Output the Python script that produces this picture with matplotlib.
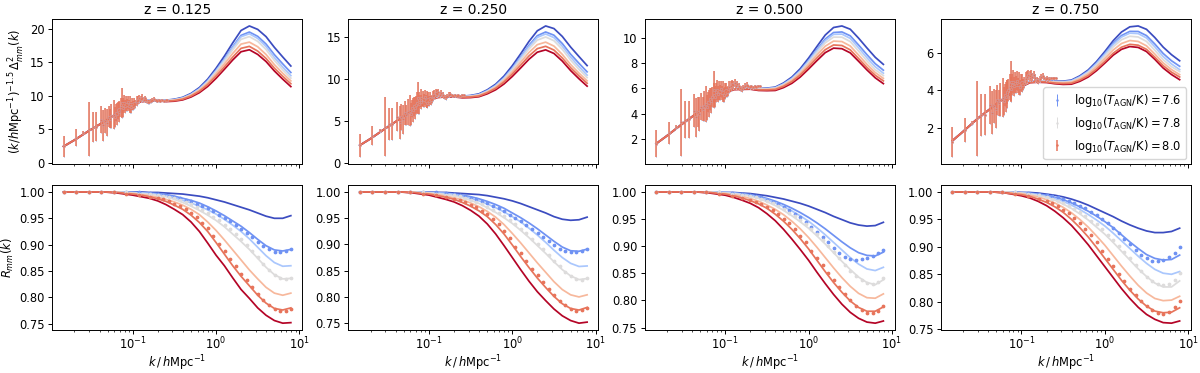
import numpy as np
import matplotlib.pyplot as plt

redshifts = [0.125, 0.250, 0.500, 0.750]
log_tagn = [7.5, 7.6, 7.7, 7.8, 7.9, 8.0, 8.1]
data_tagn = [7.6, 7.8, 8.0]

# k grid of the emulator curves
k_line = [0.0148, 0.02, 0.03, 0.045, 0.065, 0.1, 0.126, 0.158, 0.2, 0.251, 0.316, 0.398,
          0.501, 0.631, 0.794, 1.0, 1.259, 1.585, 1.995, 2.512, 3.162, 3.981, 5.012, 6.31, 7.9]

# k grid of the simulation ratios (bottom row)
k_data = [0.0148, 0.021, 0.0296, 0.042, 0.059, 0.084, 0.12, 0.16,
          0.2, 0.233, 0.272, 0.317, 0.37, 0.431, 0.503, 0.586, 0.684, 0.797, 0.93, 1.084,
          1.265, 1.475, 1.72, 2.006, 2.339, 2.728, 3.181, 3.71, 4.327, 5.046, 5.885, 6.863, 7.9]

k_lo = [0.0148, 0.0209, 0.0256, 0.0296, 0.0331, 0.0363, 0.0419, 0.0444, 0.0468, 0.0491,
        0.0513, 0.0534, 0.0554, 0.0592, 0.0610, 0.0628, 0.0645, 0.0662, 0.0678, 0.0694,
        0.0725, 0.0740, 0.0755, 0.0769, 0.0797, 0.0811, 0.0837, 0.0863, 0.0888, 0.0912,
        0.0936, 0.0959, 0.0982, 0.1004, 0.1025, 0.1047, 0.108, 0.112, 0.116, 0.120,
        0.125, 0.130, 0.135, 0.140, 0.146, 0.152, 0.158, 0.165, 0.172, 0.180,
        0.188, 0.196, 0.205, 0.215, 0.225, 0.236, 0.248, 0.260]
lo_y = [2.45, 3.75, 4.5, 5.0, 5.35, 5.4, 6.4, 5.6, 6.3, 6.0,
        6.9, 6.6, 7.0, 7.2, 6.8, 7.5, 7.3, 7.8, 7.6, 8.0,
        8.3, 8.9, 8.1, 8.6, 8.9, 8.4, 8.8, 8.6, 9.0, 8.5,
        8.7, 8.3, 8.8, 8.5, 8.9, 8.6, 8.8, 9.2, 9.4, 9.6,
        9.5, 9.7, 9.4, 9.6, 9.3, 9.1, 9.0, 9.2, 9.4, 9.5,
        9.3, 9.2, 9.3, 9.2, 9.3, 9.25, 9.3, 9.35]
lo_err = [1.6, 1.3, 0.25, 4.0, 2.2, 2.2, 2.0, 2.3, 1.8, 2.0,
          1.6, 1.4, 1.8, 2.1, 1.5, 1.2, 1.6, 1.3, 1.5, 1.2,
          1.4, 2.2, 1.3, 1.1, 1.2, 1.0, 1.1, 0.9, 1.0, 0.8,
          1.2, 0.8, 0.9, 0.7, 0.8, 0.6, 0.6, 0.7, 0.6, 0.5,
          0.5, 0.5, 0.4, 0.4, 0.4, 0.3, 0.3, 0.3, 0.3, 0.3,
          0.2, 0.2, 0.2, 0.2, 0.15, 0.15, 0.12, 0.1]
lo_scale = [1.0, 0.87, 0.66, 0.5]

# reference (no feedback) k^-1.5 Delta^2 per redshift
dmo_z0125 = [2.45, 3.4, 4.8, 6.1, 7.4, 8.6, 9.2, 9.3, 9.4, 9.35, 9.5, 9.8, 10.4, 11.3, 12.6,
             14.3, 16.2, 18.3, 20.3, 21.1, 20.7, 19.7, 18.1, 16.6, 15.1]
dmo_z0250 = [2.15, 2.95, 4.15, 5.3, 6.4, 7.45, 7.9, 8.0, 8.05, 8.0, 8.1, 8.3, 8.8, 9.5, 10.5,
             11.8, 13.3, 14.9, 16.3, 17.0, 16.8, 15.9, 14.6, 13.4, 12.2]
dmo_z0500 = [1.62, 2.25, 3.15, 4.0, 4.8, 5.6, 5.95, 6.0, 6.05, 6.0, 6.05, 6.15, 6.5, 7.0, 7.7,
             8.6, 9.6, 10.6, 11.3, 11.5, 11.3, 10.6, 9.8, 9.0, 8.35]
dmo_z0750 = [1.3, 1.8, 2.5, 3.1, 3.65, 4.2, 4.45, 4.5, 4.52, 4.5, 4.52, 4.6, 4.85, 5.2, 5.7,
             6.3, 6.95, 7.5, 7.85, 7.95, 7.8, 7.35, 6.8, 6.35, 5.96]

# emulator suppression R_mm(k), one row per log10(T_AGN/K)
ratio_z0125 = [
    [1, 1, 1, 1, 1, 1.0, 1.0, 0.999, 0.999, 0.998, 0.997, 0.996, 0.994, 0.992, 0.989, 0.985, 0.981, 0.976, 0.971, 0.966, 0.960, 0.954, 0.950, 0.950, 0.955],
    [1, 1, 1, 1, 1, 0.999, 0.999, 0.998, 0.997, 0.995, 0.992, 0.988, 0.984, 0.979, 0.972, 0.964, 0.955, 0.945, 0.935, 0.923, 0.910, 0.898, 0.890, 0.888, 0.891],
    [1, 1, 1, 1, 1, 0.999, 0.998, 0.997, 0.995, 0.992, 0.989, 0.984, 0.979, 0.973, 0.966, 0.958, 0.948, 0.937, 0.925, 0.911, 0.895, 0.879, 0.866, 0.859, 0.860],
    [1, 1, 1, 1, 1, 0.998, 0.997, 0.996, 0.994, 0.991, 0.986, 0.980, 0.973, 0.965, 0.956, 0.946, 0.934, 0.920, 0.906, 0.891, 0.874, 0.857, 0.843, 0.835, 0.836],
    [1, 1, 1, 1, 0.999, 0.997, 0.995, 0.993, 0.990, 0.986, 0.981, 0.975, 0.967, 0.957, 0.943, 0.927, 0.909, 0.890, 0.871, 0.852, 0.835, 0.819, 0.808, 0.804, 0.808],
    [1, 1, 1, 1, 0.999, 0.996, 0.994, 0.991, 0.987, 0.982, 0.975, 0.967, 0.956, 0.942, 0.925, 0.904, 0.882, 0.860, 0.840, 0.822, 0.804, 0.789, 0.779, 0.776, 0.780],
    [1, 1, 1, 1, 0.998, 0.994, 0.991, 0.988, 0.983, 0.976, 0.967, 0.957, 0.943, 0.925, 0.903, 0.880, 0.860, 0.837, 0.815, 0.798, 0.780, 0.766, 0.756, 0.751, 0.752],
]
ratio_z0250 = [
    [1, 1, 1, 1, 1, 1.0, 0.999, 0.999, 0.998, 0.997, 0.996, 0.995, 0.993, 0.990, 0.987, 0.983, 0.978, 0.972, 0.966, 0.960, 0.953, 0.948, 0.946, 0.947, 0.952],
    [1, 1, 1, 1, 1, 0.999, 0.999, 0.998, 0.996, 0.994, 0.991, 0.987, 0.982, 0.976, 0.969, 0.960, 0.951, 0.941, 0.930, 0.918, 0.906, 0.895, 0.888, 0.887, 0.891],
    [1, 1, 1, 1, 1, 0.999, 0.998, 0.997, 0.995, 0.992, 0.988, 0.983, 0.977, 0.970, 0.962, 0.953, 0.943, 0.931, 0.918, 0.904, 0.889, 0.875, 0.864, 0.858, 0.859],
    [1, 1, 1, 1, 1, 0.998, 0.997, 0.995, 0.993, 0.989, 0.984, 0.978, 0.970, 0.961, 0.951, 0.940, 0.927, 0.913, 0.898, 0.883, 0.867, 0.852, 0.840, 0.833, 0.835],
    [1, 1, 1, 1, 0.999, 0.997, 0.995, 0.992, 0.989, 0.985, 0.979, 0.972, 0.963, 0.952, 0.938, 0.921, 0.903, 0.884, 0.865, 0.847, 0.829, 0.814, 0.804, 0.800, 0.804],
    [1, 1, 1, 1, 0.999, 0.996, 0.993, 0.990, 0.986, 0.980, 0.973, 0.964, 0.953, 0.938, 0.920, 0.899, 0.877, 0.856, 0.836, 0.818, 0.801, 0.787, 0.778, 0.775, 0.780],
    [1, 1, 1, 1, 0.998, 0.994, 0.990, 0.986, 0.981, 0.974, 0.965, 0.954, 0.939, 0.920, 0.898, 0.875, 0.852, 0.830, 0.810, 0.793, 0.777, 0.764, 0.755, 0.750, 0.752],
]
ratio_z0500 = [
    [1, 1, 1, 1, 1, 0.999, 0.999, 0.998, 0.997, 0.995, 0.993, 0.990, 0.987, 0.983, 0.979, 0.974, 0.968, 0.962, 0.955, 0.949, 0.943, 0.939, 0.937, 0.938, 0.944],
    [1, 1, 1, 1, 1, 0.999, 0.998, 0.997, 0.995, 0.992, 0.988, 0.983, 0.977, 0.970, 0.962, 0.953, 0.943, 0.932, 0.920, 0.908, 0.897, 0.888, 0.883, 0.882, 0.889],
    [1, 1, 1, 1, 1, 0.999, 0.998, 0.996, 0.994, 0.990, 0.986, 0.980, 0.973, 0.965, 0.956, 0.946, 0.934, 0.921, 0.907, 0.893, 0.879, 0.867, 0.858, 0.855, 0.861],
    [1, 1, 1, 1, 1, 0.998, 0.997, 0.995, 0.992, 0.988, 0.982, 0.975, 0.966, 0.956, 0.945, 0.933, 0.919, 0.904, 0.888, 0.872, 0.857, 0.843, 0.833, 0.829, 0.838],
    [1, 1, 1, 1, 0.999, 0.997, 0.995, 0.992, 0.988, 0.983, 0.976, 0.968, 0.958, 0.946, 0.932, 0.916, 0.898, 0.879, 0.860, 0.842, 0.826, 0.813, 0.805, 0.804, 0.812],
    [1, 1, 1, 1, 0.999, 0.996, 0.993, 0.989, 0.984, 0.978, 0.970, 0.959, 0.946, 0.931, 0.914, 0.895, 0.874, 0.853, 0.833, 0.815, 0.799, 0.787, 0.780, 0.780, 0.788],
    [1, 1, 1, 1, 0.998, 0.994, 0.990, 0.985, 0.979, 0.971, 0.960, 0.947, 0.931, 0.913, 0.894, 0.874, 0.852, 0.831, 0.811, 0.793, 0.778, 0.767, 0.760, 0.758, 0.762],
]
ratio_z0750 = [
    [1, 1, 1, 1, 1, 0.999, 0.999, 0.998, 0.996, 0.994, 0.991, 0.987, 0.982, 0.976, 0.969, 0.962, 0.955, 0.947, 0.940, 0.934, 0.929, 0.926, 0.926, 0.928, 0.934],
    [1, 1, 1, 1, 1, 0.999, 0.998, 0.996, 0.994, 0.990, 0.986, 0.980, 0.973, 0.965, 0.956, 0.946, 0.935, 0.922, 0.909, 0.897, 0.886, 0.879, 0.876, 0.877, 0.885],
    [1, 1, 1, 1, 1, 0.998, 0.997, 0.995, 0.992, 0.988, 0.983, 0.976, 0.968, 0.959, 0.949, 0.938, 0.925, 0.911, 0.897, 0.883, 0.870, 0.859, 0.852, 0.850, 0.855],
    [1, 1, 1, 1, 1, 0.998, 0.996, 0.994, 0.990, 0.985, 0.978, 0.970, 0.960, 0.949, 0.936, 0.923, 0.908, 0.892, 0.876, 0.860, 0.846, 0.834, 0.827, 0.827, 0.838],
    [1, 1, 1, 1, 0.999, 0.997, 0.994, 0.991, 0.986, 0.980, 0.972, 0.962, 0.950, 0.936, 0.920, 0.903, 0.884, 0.865, 0.847, 0.830, 0.816, 0.806, 0.802, 0.803, 0.810],
    [1, 1, 1, 1, 0.998, 0.995, 0.992, 0.987, 0.981, 0.973, 0.963, 0.950, 0.935, 0.918, 0.899, 0.879, 0.859, 0.839, 0.821, 0.805, 0.792, 0.783, 0.780, 0.781, 0.789],
    [1, 1, 1, 1, 0.998, 0.993, 0.989, 0.983, 0.975, 0.965, 0.953, 0.939, 0.922, 0.904, 0.884, 0.864, 0.844, 0.824, 0.806, 0.790, 0.777, 0.768, 0.762, 0.761, 0.765],
]

# simulation suppression for log T = 7.6, 7.8, 8.0
sim_z0125 = [
    [1, 1, 1, 1, 1, 0.999, 0.999, 0.998, 0.997, 0.995, 0.993, 0.991, 0.988, 0.985, 0.982, 0.978, 0.974, 0.969, 0.963, 0.957,
     0.951, 0.944, 0.937, 0.930, 0.922, 0.914, 0.905, 0.897, 0.891, 0.887, 0.886, 0.888, 0.892],
    [1, 1, 1, 1, 1, 0.999, 0.997, 0.996, 0.995, 0.993, 0.990, 0.988, 0.985, 0.981, 0.977, 0.972, 0.966, 0.960, 0.953, 0.946,
     0.938, 0.929, 0.920, 0.910, 0.899, 0.888, 0.876, 0.864, 0.852, 0.842, 0.836, 0.834, 0.836],
    [1, 1, 1, 1, 0.999, 0.997, 0.994, 0.991, 0.988, 0.986, 0.982, 0.978, 0.974, 0.968, 0.961, 0.952, 0.942, 0.931, 0.917, 0.901,
     0.888, 0.873, 0.859, 0.845, 0.832, 0.819, 0.806, 0.795, 0.785, 0.778, 0.774, 0.774, 0.778],
]
sim_z0250 = [
    [1, 1, 1, 1, 1, 0.999, 0.999, 0.998, 0.996, 0.994, 0.992, 0.989, 0.986, 0.982, 0.979, 0.974, 0.969, 0.964, 0.957, 0.950,
     0.944, 0.937, 0.929, 0.922, 0.914, 0.906, 0.898, 0.891, 0.887, 0.885, 0.885, 0.887, 0.892],
    [1, 1, 1, 1, 1, 0.999, 0.997, 0.995, 0.994, 0.992, 0.988, 0.985, 0.981, 0.977, 0.972, 0.966, 0.960, 0.954, 0.946, 0.938,
     0.930, 0.921, 0.911, 0.901, 0.891, 0.880, 0.869, 0.858, 0.848, 0.840, 0.835, 0.833, 0.836],
    [1, 1, 1, 1, 0.999, 0.997, 0.994, 0.990, 0.987, 0.984, 0.980, 0.976, 0.971, 0.964, 0.958, 0.949, 0.938, 0.926, 0.912, 0.896,
     0.883, 0.868, 0.854, 0.841, 0.828, 0.816, 0.804, 0.793, 0.784, 0.777, 0.774, 0.775, 0.779],
]
sim_z0500 = [
    [1, 1, 1, 1, 1, 0.999, 0.998, 0.997, 0.995, 0.993, 0.990, 0.986, 0.982, 0.977, 0.972, 0.966, 0.960, 0.953, 0.945, 0.936,
     0.927, 0.917, 0.907, 0.896, 0.887, 0.880, 0.876, 0.875, 0.876, 0.878, 0.882, 0.887, 0.893],
    [1, 1, 1, 1, 1, 0.999, 0.997, 0.995, 0.993, 0.991, 0.987, 0.983, 0.979, 0.974, 0.968, 0.962, 0.955, 0.948, 0.940, 0.931,
     0.922, 0.912, 0.901, 0.890, 0.878, 0.866, 0.855, 0.845, 0.837, 0.832, 0.831, 0.834, 0.841],
    [1, 1, 1, 1, 0.999, 0.997, 0.993, 0.989, 0.985, 0.982, 0.977, 0.972, 0.966, 0.959, 0.951, 0.942, 0.931, 0.919, 0.907, 0.892,
     0.879, 0.865, 0.850, 0.837, 0.824, 0.812, 0.800, 0.790, 0.782, 0.777, 0.776, 0.781, 0.790],
]
sim_z0750 = [
    [1, 1, 1, 1, 1, 0.999, 0.998, 0.997, 0.995, 0.993, 0.990, 0.987, 0.983, 0.979, 0.975, 0.970, 0.964, 0.958, 0.951, 0.943,
     0.935, 0.925, 0.915, 0.905, 0.895, 0.886, 0.879, 0.875, 0.874, 0.876, 0.881, 0.889, 0.899],
    [1, 1, 1, 1, 1, 0.999, 0.996, 0.994, 0.991, 0.988, 0.984, 0.980, 0.975, 0.969, 0.963, 0.956, 0.948, 0.941, 0.932, 0.922,
     0.912, 0.901, 0.890, 0.879, 0.867, 0.856, 0.846, 0.838, 0.832, 0.830, 0.832, 0.840, 0.852],
    [1, 1, 1, 1, 0.999, 0.996, 0.992, 0.988, 0.983, 0.979, 0.974, 0.968, 0.961, 0.953, 0.944, 0.933, 0.921, 0.908, 0.893, 0.878,
     0.865, 0.851, 0.837, 0.824, 0.812, 0.801, 0.792, 0.785, 0.780, 0.778, 0.781, 0.790, 0.802],
]

dmo_all = [dmo_z0125, dmo_z0250, dmo_z0500, dmo_z0750]
ratio_all = [ratio_z0125, ratio_z0250, ratio_z0500, ratio_z0750]
sim_all = [sim_z0125, sim_z0250, sim_z0500, sim_z0750]

colors = plt.cm.coolwarm(np.linspace(0, 1, len(log_tagn)))
data_idx = [log_tagn.index(t) for t in data_tagn]
line_order = [0, 1, 2, 3, 4, 6, 5]  # 8.0 drawn last so it sits on top at low k
bar_widths = [0.7, 0.7, 1.1]       # hidden runs under the 8.0 bars

fs = 8.3
plt.rcParams['axes.linewidth'] = 0.7
plt.rcParams['xtick.major.size'] = 2.9
plt.rcParams['ytick.major.size'] = 2.9
plt.rcParams['xtick.minor.size'] = 1.7
plt.rcParams['ytick.minor.size'] = 1.7
plt.rcParams['xtick.major.width'] = 0.7
plt.rcParams['ytick.major.width'] = 0.7
plt.rcParams['xtick.minor.width'] = 0.5
plt.rcParams['ytick.minor.width'] = 0.5
plt.rcParams['xtick.major.pad'] = 1.5
plt.rcParams['ytick.major.pad'] = 2.5

fig, axes = plt.subplots(2, 4, figsize=(12, 3.73), dpi=100, sharex=True)
fig.subplots_adjust(left=0.0435, right=0.9925, top=0.948, bottom=0.116, wspace=0.185, hspace=0.15)

k_line = np.array(k_line)
for j, z in enumerate(redshifts):
    top = axes[0, j]
    bot = axes[1, j]
    dmo = np.array(dmo_all[j])
    for i in line_order:
        r = np.array(ratio_all[j][i])
        top.plot(k_line, dmo * r, color=colors[i], lw=1.25)
        bot.plot(k_line, r, color=colors[i], lw=1.25)

    handles = []
    for n, t in enumerate(data_tagn):
        c = colors[data_idx[n]]
        h = top.errorbar(k_lo, np.array(lo_y) * lo_scale[j], yerr=np.array(lo_err) * lo_scale[j],
                         fmt='.', ms=1.5, color=c, elinewidth=bar_widths[n], zorder=3,
                         label=r'$\mathrm{log}_{10}(T_{\rm AGN}/{\rm K}) = %.1f$' % t)
        handles.append(h)
        bot.errorbar(k_data, sim_all[j][n], fmt='o', ms=1.7, color=c, zorder=3)

    top.set_xscale('log')
    top.set_title('z = %.3f' % z, fontsize=10, pad=4)
    for ax in (top, bot):
        ax.tick_params(labelsize=fs)
    bot.set_xlabel(r'$k\,/\,h\mathrm{Mpc}^{-1}$', fontsize=fs, labelpad=0.5)

    if j == 3:
        top.legend(handles=handles, loc='lower right', fontsize=fs, handlelength=1.5,
                   borderaxespad=0.4)

axes[0, 0].set_ylabel(r'$(k/h\mathrm{Mpc}^{-1})^{-1.5}\,\Delta^2_{mm}(k)$', fontsize=fs, labelpad=2)
axes[1, 0].set_ylabel(r'$R_{mm}(k)$', fontsize=fs, labelpad=2)

plt.savefig('out.png', dpi=100)
